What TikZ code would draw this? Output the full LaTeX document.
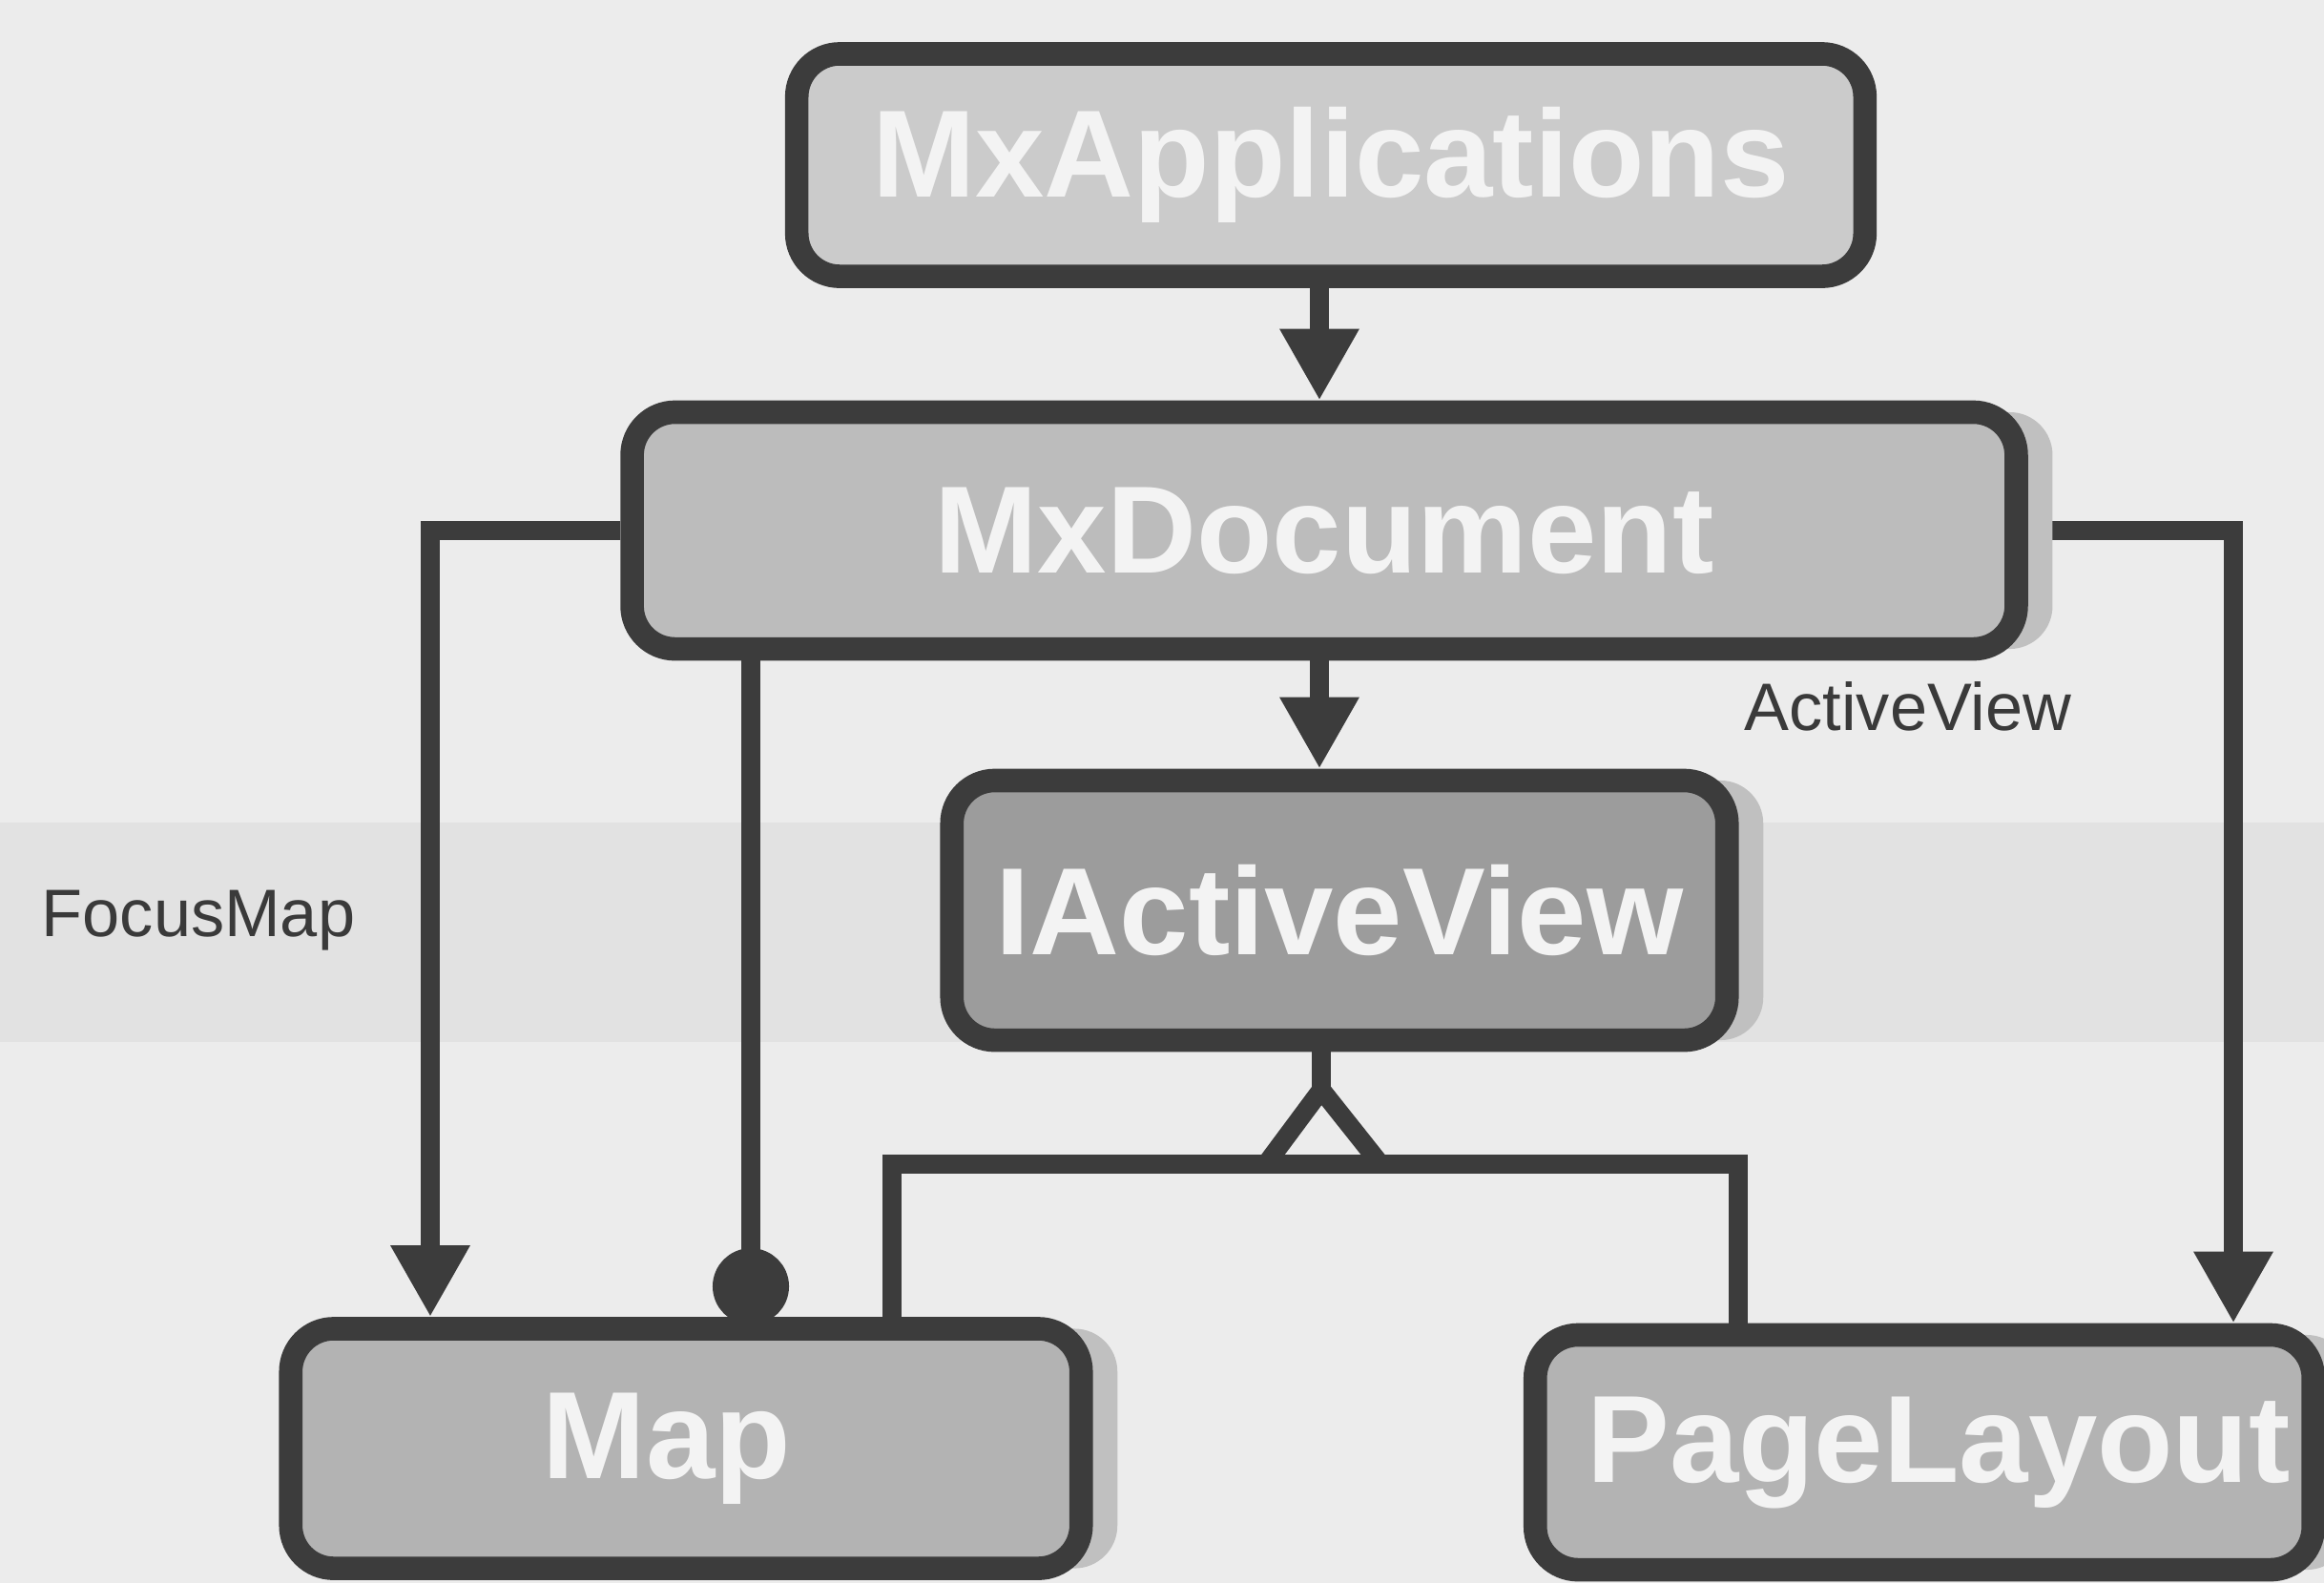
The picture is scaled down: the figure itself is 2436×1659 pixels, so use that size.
\documentclass[tikz,border=0pt]{standalone}
\usepackage{fontspec}
\setmainfont{Liberation Sans}
\usetikzlibrary{arrows.meta,shadows,backgrounds}

\definecolor{paper}{HTML}{ECECEC}
\definecolor{band}{HTML}{E2E2E2}
\definecolor{ink}{HTML}{3C3C3C}
\definecolor{appfill}{HTML}{CBCBCB}
\definecolor{docfill}{HTML}{BCBCBC}
\definecolor{viewfill}{HTML}{9C9C9C}
\definecolor{leaffill}{HTML}{B3B3B3}
\definecolor{boxtext}{HTML}{F3F3F3}
\definecolor{labelink}{HTML}{3A3A3A}
\definecolor{shade}{HTML}{C0C0C0}

\begin{document}
\begin{tikzpicture}[
  x=0.01cm, y=-0.01cm,
  box/.style={draw=ink, line width=7pt, rounded corners=0.45cm,
    inner sep=0pt, text=boxtext,
    font=\fontsize{37}{40}\selectfont\bfseries},
  shadowed/.style={drop shadow={shadow xshift=0.38cm, shadow yshift=0cm,
    fill=shade, opacity=1}},
  conn/.style={draw=ink, line width=5.6pt},
  arr/.style={conn, -{Triangle[length=0.75cm, width=0.78cm]}},
  dotend/.style={conn, -{Circle[length=0.8cm]}, shorten >=-0.08cm},
  lbl/.style={text=labelink, font=\fontsize{20}{24}\selectfont, inner sep=0pt}
]
% page
\begin{pgfonlayer}{background}
  \fill[paper] (0,0) rectangle (2436,1659);
  \fill[band] (0,862) rectangle (2436,1092);
\end{pgfonlayer}
\useasboundingbox (0,0) rectangle (2436,1659);

% classes
\node[box, fill=appfill, minimum width=11.19cm, minimum height=2.33cm]
  (app) at (1395,173) {MxApplications};
\node[box, shadowed, fill=docfill, minimum width=14.5cm, minimum height=2.48cm]
  (doc) at (1388,556) {MxDocument};
\node[box, shadowed, fill=viewfill, minimum width=8.12cm, minimum height=2.72cm]
  (view) at (1404,954) {IActiveView};
\node[box, shadowed, fill=leaffill, minimum width=8.28cm, minimum height=2.51cm]
  (map) at (719,1518) {\hspace*{-0.4cm}Map};
\node[box, shadowed, fill=leaffill, minimum width=8.15cm, minimum height=2.46cm]
  (page) at (2017,1522) {\hspace*{0.3cm}PageLayout};

% property labels
\node[lbl] (lfocus) at (208,965) {FocusMap};
\node[lbl] (lactive) at (2000,740) {ActiveView};

% x positions of the vertical runs
\coordinate (cx) at (1383,0);
\coordinate (fx) at (451,0);
\coordinate (dx) at (787,0);
\coordinate (ax) at (2341,0);
\coordinate (busL) at (935,1220);
\coordinate (busR) at (1822,1220);
\coordinate (apex) at (1385,1142);
\coordinate (triL) at (1327,1220);
\coordinate (triR) at (1447,1220);

% connectors
\begin{pgfonlayer}{background}
  \draw[arr] (app.south -| cx) -- (doc.north -| cx);
  \draw[arr] (doc.south -| cx) -- (view.north -| cx);
  \draw[arr] (doc.west) -| (map.north -| fx);
  \draw[dotend] (doc.south -| dx) -- (map.north -| dx);
  \draw[arr] (doc.east) -| (page.north -| ax);
  \draw[conn, line join=miter] (map.north -| busL) -- (busL) -- (busR) -- (page.north -| busR);
\end{pgfonlayer}

% inheritance marker
\draw[conn] (view.south -| apex) -- (apex);
\draw[conn, line join=miter] (apex) -- (triL) -- (triR) -- cycle;
\end{tikzpicture}
\end{document}
